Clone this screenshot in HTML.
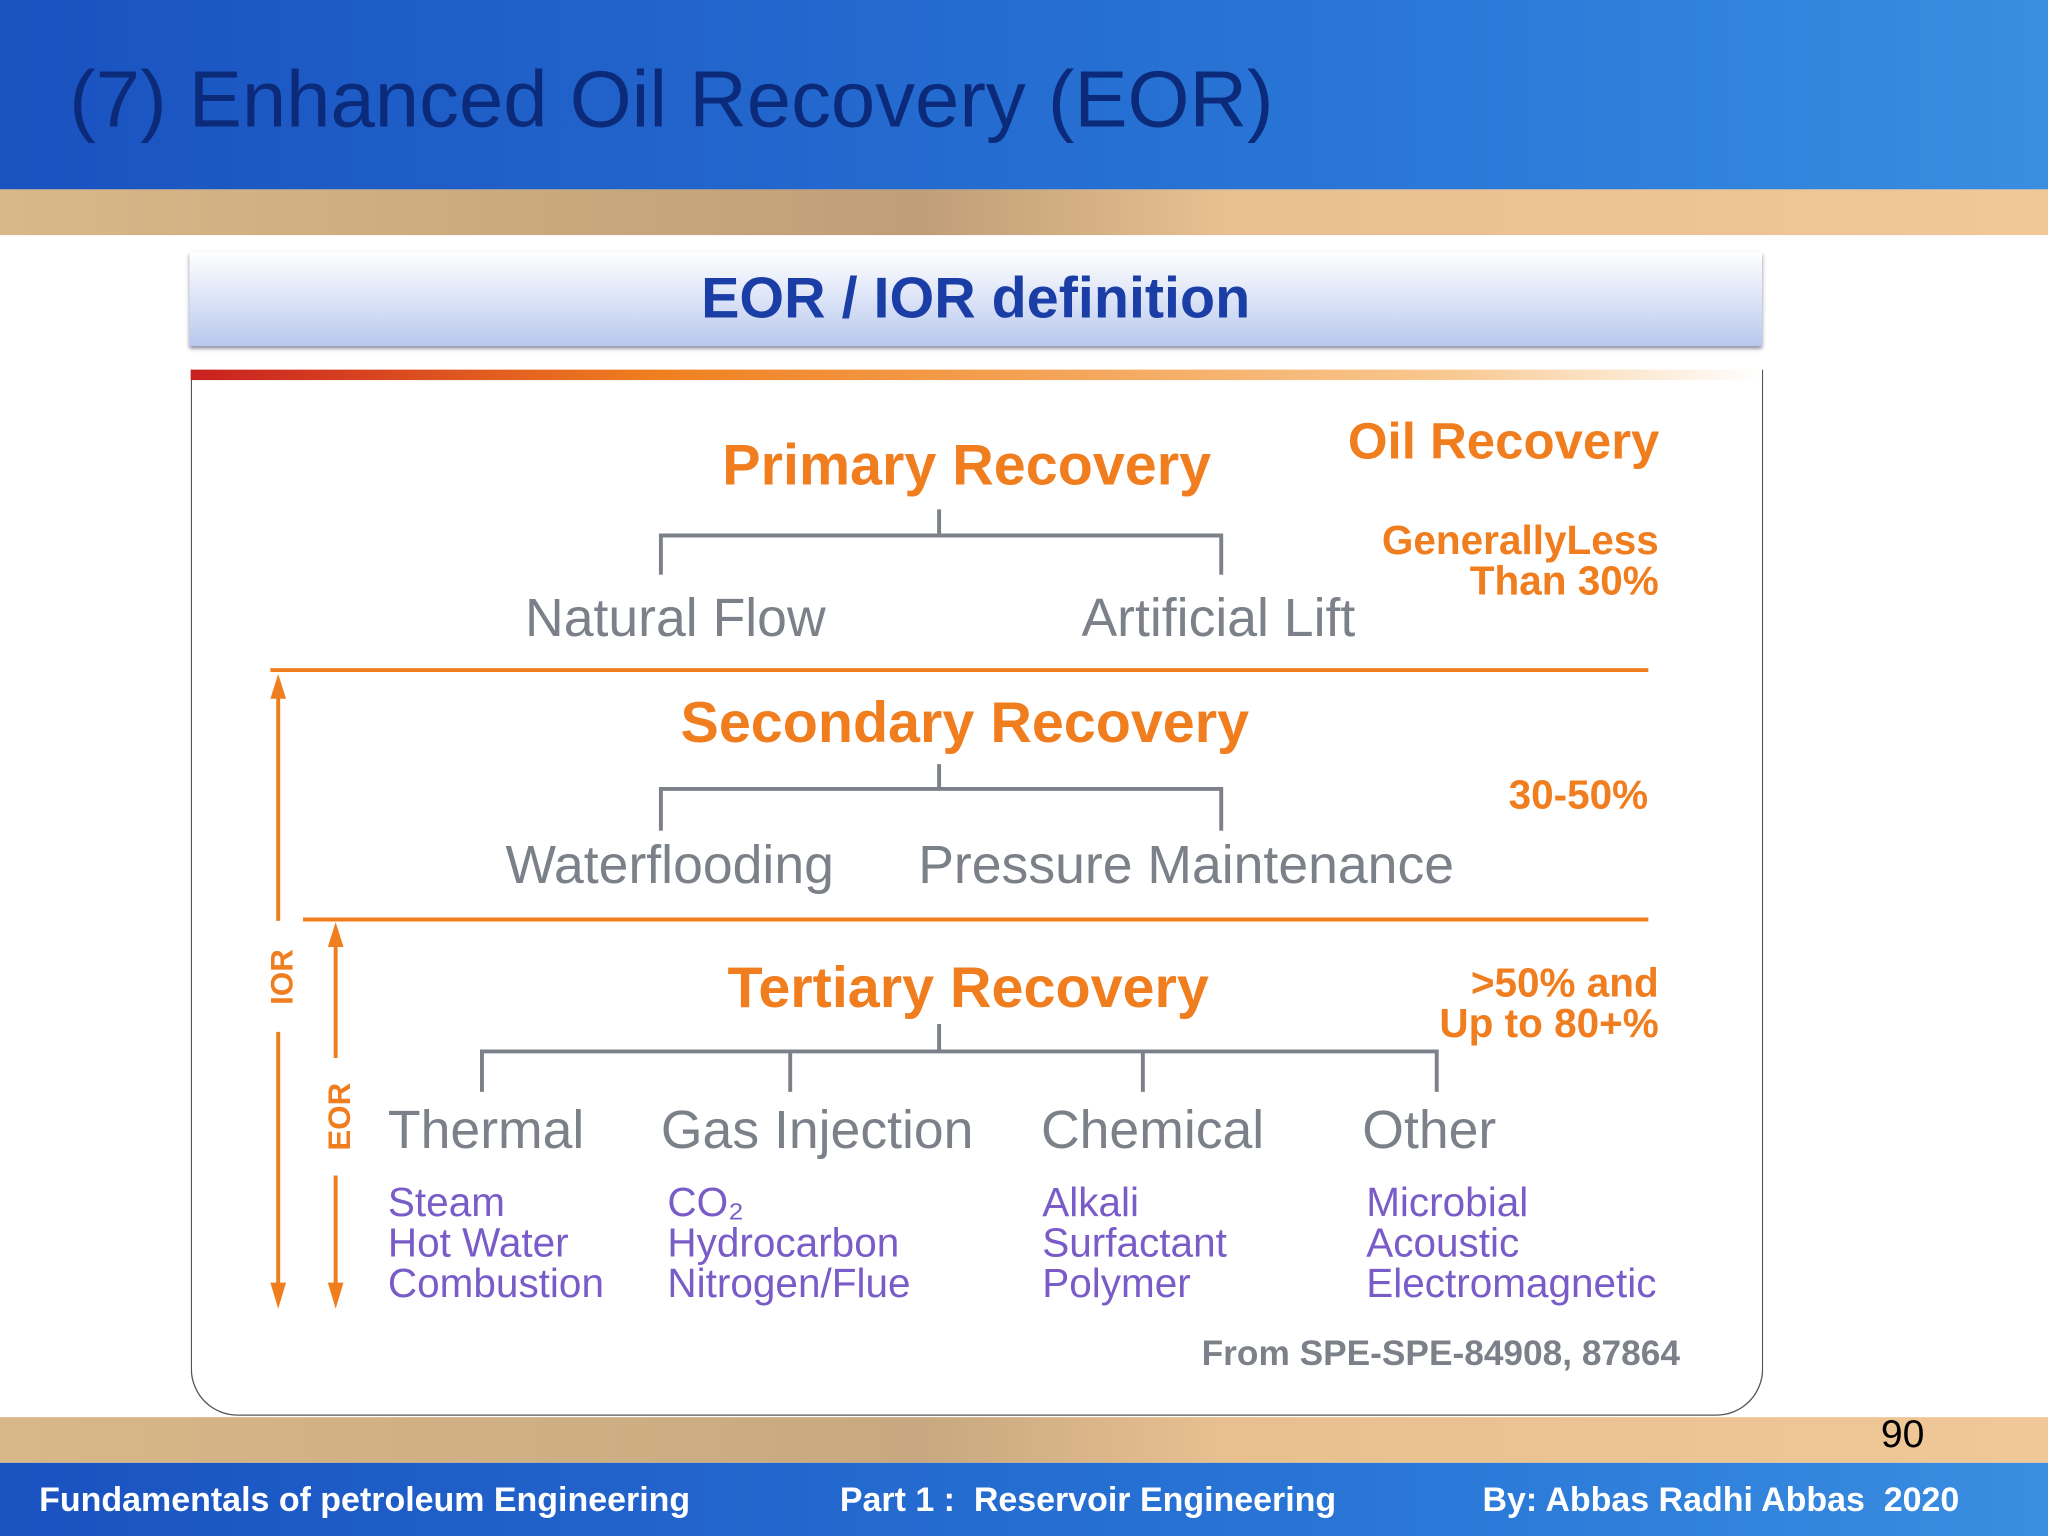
<!DOCTYPE html>
<html><head><meta charset="utf-8"><style>
html,body{margin:0;padding:0;width:2048px;height:1536px;overflow:hidden;background:#fff}
#s{position:absolute;left:0;top:0;width:1568px;height:1176px;transform:scale(1.306122);transform-origin:0 0;font-family:"Liberation Sans",sans-serif}
.a{position:absolute;white-space:nowrap}
.o{color:#f07d1e;font-weight:bold}
.g{color:#7c8189}
.p{color:#7a5cc8;line-height:31px;font-size:31px;letter-spacing:0px}
</style></head><body>
<div id="s">
<div class="a" style="left:0;top:0;width:1568px;height:145px;background:linear-gradient(90deg,#1a52c0,#2a78d8 70%,#3a8ee0)"></div>
<div class="a" style="left:53px;top:41px;font-size:61px;color:#0c2a7a">(7) Enhanced Oil Recovery (EOR)</div>
<div class="a" style="left:0;top:145px;width:1568px;height:35px;background:linear-gradient(90deg,#d8b888,#c09e78 45%,#e8c090 60%,#f0c898)"></div>
<div class="a" style="left:145px;top:193px;width:1204px;height:72px;background:linear-gradient(180deg,#ffffff,#b8c8ee);box-shadow:0 2px 3px #889"></div>
<div class="a" style="left:145px;width:1204px;top:204px;text-align:center;font-size:44px;font-weight:bold;color:#1b3ea6">EOR / IOR definition</div>
<div class="a" style="left:146px;top:283px;width:1202px;height:800px;border:1px solid #555;border-top:none;border-radius:0 0 36px 36px"></div>
<div class="a" style="left:146px;top:283px;width:1203px;height:8px;background:linear-gradient(90deg,#c82020,#f08020 30%,#f8c890 80%,#fff)"></div>
<svg class="a" style="left:0;top:0" width="1568" height="1176">
<g stroke="#7c8189" stroke-width="3" fill="none">
<path d="M719 390V410M506 440V410H935V440"/>
<path d="M719 585V604M506 636V604H935V636"/>
<path d="M719 784V805M369 836V805H1100V836M605 836V805M875 836V805"/>
</g>
<g stroke="#f07d1e" stroke-width="3" fill="#f07d1e">
<line x1="207" y1="513" x2="1262" y2="513"/>
<line x1="232" y1="704" x2="1262" y2="704"/>
<line x1="213" y1="530" x2="213" y2="705"/><line x1="213" y1="790" x2="213" y2="990"/>
<line x1="257" y1="718" x2="257" y2="810"/><line x1="257" y1="900" x2="257" y2="990"/>
<polygon stroke="none" points="207,535 219,535 213,516"/>
<polygon stroke="none" points="207,982 219,982 213,1002"/>
<polygon stroke="none" points="251,725 263,725 257,706"/>
<polygon stroke="none" points="251,982 263,982 257,1002"/>
</g>
<text x="224" y="748" transform="rotate(-90 224 748)" text-anchor="middle" font-family="Liberation Sans" font-weight="bold" font-size="24" fill="#f07d1e">IOR</text>
<text x="268" y="855" transform="rotate(-90 268 855)" text-anchor="middle" font-family="Liberation Sans" font-weight="bold" font-size="24" fill="#f07d1e">EOR</text>
</svg>
<div class="a o" style="left:553px;top:332px;font-size:44px">Primary Recovery</div>
<div class="a o" style="left:1032px;top:317px;font-size:39px">Oil Recovery</div>
<div class="a o" style="left:1050px;top:398px;font-size:31px;text-align:right;width:220px;line-height:31px">GenerallyLess<br>Than 30%</div>
<div class="a g" style="left:402px;top:450px;font-size:41px">Natural Flow</div>
<div class="a g" style="left:828px;top:450px;font-size:41px">Artificial Lift</div>
<div class="a o" style="left:521px;top:529px;font-size:44px">Secondary Recovery</div>
<div class="a o" style="left:1155px;top:591px;font-size:31px">30-50%</div>
<div class="a g" style="left:387px;top:639px;font-size:41px">Waterflooding</div>
<div class="a g" style="left:703px;top:639px;font-size:41px">Pressure Maintenance</div>
<div class="a o" style="left:557px;top:732px;font-size:44px">Tertiary Recovery</div>
<div class="a o" style="left:1050px;top:737px;font-size:31px;text-align:right;width:220px;line-height:31px">&gt;50% and<br>Up to 80+%</div>
<div class="a g" style="left:297px;top:842px;font-size:41px">Thermal</div>
<div class="a g" style="left:506px;top:842px;font-size:41px">Gas Injection</div>
<div class="a g" style="left:797px;top:842px;font-size:41px">Chemical</div>
<div class="a g" style="left:1043px;top:842px;font-size:41px">Other</div>
<div class="a p" style="left:297px;top:905px">Steam<br>Hot Water<br>Combustion</div>
<div class="a p" style="left:511px;top:905px">CO₂<br>Hydrocarbon<br>Nitrogen/Flue</div>
<div class="a p" style="left:798px;top:905px">Alkali<br>Surfactant<br>Polymer</div>
<div class="a p" style="left:1046px;top:905px">Microbial<br>Acoustic<br>Electromagnetic</div>
<div class="a" style="left:920px;top:1021px;font-size:27px;font-weight:bold;color:#7c8189;letter-spacing:0px">From SPE-SPE-84908, 87864</div>
<div class="a" style="left:0;top:1085px;width:1568px;height:35px;background:linear-gradient(90deg,#d8b888,#c8a880 45%,#e8c090 60%,#f0c898)"></div>
<div class="a" style="left:1440px;top:1082px;font-size:30px;color:#000">90</div>
<div class="a" style="left:0;top:1120px;width:1568px;height:56px;background:linear-gradient(90deg,#1a52c0,#2a78d8 70%,#3a8ee0)"></div>
<div class="a" style="left:30px;top:1133px;font-size:26px;font-weight:bold;color:#fff">Fundamentals of petroleum Engineering</div>
<div class="a" style="left:643px;top:1133px;font-size:26px;font-weight:bold;color:#fff">Part 1 :&nbsp; Reservoir Engineering</div>
<div class="a" style="left:1135px;top:1133px;font-size:26px;font-weight:bold;color:#fff">By: Abbas Radhi Abbas&nbsp; 2020</div>
</div>
</body></html>
